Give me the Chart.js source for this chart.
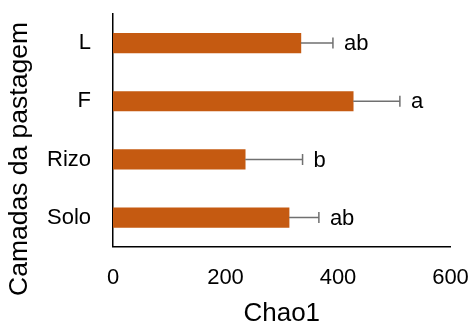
<!DOCTYPE html>
<html>
<head>
<meta charset="utf-8">
<script src="https://cdn.jsdelivr.net/npm/chart.js@4"></script>
<style>
  body { margin: 0; background: #fff; }
  #wrap { width: 474px; height: 327px; }
</style>
</head>
<body>
<div id="wrap"><canvas id="chao1Chart" width="474" height="327"></canvas></div>
<script>
// data
const categories = ['L', 'F', 'Rizo', 'Solo'];
const chao1 = [334, 427, 235, 313];
const errorPlus = [57, 83, 102, 53];
const letters = ['ab', 'a', 'b', 'ab'];
const xTicks = [0, 200, 400, 600];
const yTitle = 'Camadas da pastagem';

const font = 'Liberation Sans, Arial, sans-serif';

// error bars + significance letters
const errorBarPlugin = {
  id: 'errorBars',
  afterDatasetsDraw(chart) {
    const ctx = chart.ctx;
    const x = chart.scales.x;
    const meta = chart.getDatasetMeta(0);
    ctx.save();
    meta.data.forEach((bar, i) => {
      const x0 = x.getPixelForValue(chao1[i]);
      const x1 = x.getPixelForValue(chao1[i] + errorPlus[i]);
      const y = bar.y;
      ctx.strokeStyle = '#707070';
      ctx.lineWidth = 1.5;
      ctx.beginPath();
      ctx.moveTo(x0, y);
      ctx.lineTo(x1, y);
      ctx.moveTo(x1, y - 5.5);
      ctx.lineTo(x1, y + 5.5);
      ctx.stroke();
      ctx.fillStyle = '#000';
      ctx.font = '22px ' + font;
      ctx.textAlign = 'left';
      ctx.textBaseline = 'middle';
      ctx.fillText(letters[i], x1 + 11, y + 1);
    });
    ctx.restore();
  }
};

// y title sits centred on the whole figure height, not on the plot
const yTitlePlugin = {
  id: 'yTitle',
  afterDraw(chart) {
    const ctx = chart.ctx;
    ctx.save();
    ctx.translate(20, 159);
    ctx.rotate(-Math.PI / 2);
    ctx.fillStyle = '#000';
    ctx.font = '26.5px ' + font;
    ctx.textAlign = 'center';
    ctx.textBaseline = 'middle';
    ctx.fillText(yTitle, 0, 0);
    ctx.restore();
  }
};

// keep tick labels from pushing the plot area around
function noPadding(scale) {
  scale.paddingTop = 0;
  scale.paddingBottom = 0;
  scale.paddingLeft = 0;
  scale.paddingRight = 0;
}

const ctx = document.getElementById('chao1Chart').getContext('2d');
const chart = new Chart(ctx, {
  type: 'bar',
  data: {
    labels: categories,
    datasets: [{
      data: chao1,
      backgroundColor: '#C55A11',
      barThickness: 19.5
    }]
  },
  plugins: [errorBarPlugin, yTitlePlugin],
  options: {
    indexAxis: 'y',
    responsive: false,
    animation: false,
    layout: { padding: { top: 14, right: 23.5, left: 0, bottom: 0 } },
    plugins: {
      legend: { display: false },
      tooltip: { enabled: false }
    },
    scales: {
      x: {
        min: 0,
        max: 600,
        afterBuildTicks: (scale) => { scale.ticks = xTicks.map(v => ({ value: v })); },
        afterFit: (scale) => { scale.height = 80.3; noPadding(scale); },
        grid: { display: false, drawTicks: false },
        border: { display: true, color: '#000', width: 1.5 },
        ticks: { padding: 18, color: '#000', font: { family: font, size: 22 } },
        title: {
          display: true,
          text: 'Chao1',
          color: '#000',
          padding: 0,
          font: { family: font, size: 26, lineHeight: 1 }
        }
      },
      y: {
        afterFit: (scale) => { scale.width = 113; noPadding(scale); },
        grid: { display: false, drawTicks: false },
        border: { display: true, color: '#000', width: 1.5 },
        ticks: { padding: 22, color: '#000', font: { family: font, size: 22 } },
        title: { display: false }
      }
    }
  }
});
</script>
</body>
</html>
